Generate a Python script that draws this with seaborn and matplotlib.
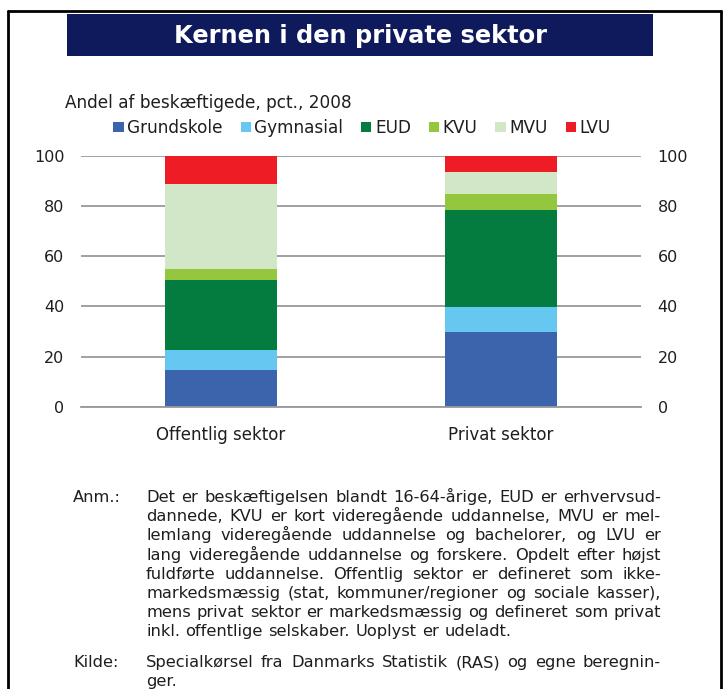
#!/usr/bin/env python

import matplotlib
matplotlib.use("Agg")
import matplotlib.pyplot as plt
from matplotlib.patches import Patch, Rectangle
from matplotlib.lines import Line2D
import pandas as pd
import numpy as np
import seaborn as sns

# data (pct. of employed, 2008)
categories = ['Offentlig sektor', 'Privat sektor']
series = ['Grundskole', 'Gymnasial', 'EUD', 'KVU', 'MVU', 'LVU']
grundskole = [14.6, 29.9]
gymnasial = [8.0, 9.7]
eud = [27.9, 38.8]
kvu = [4.4, 6.4]
mvu = [33.8, 8.8]
lvu = [11.3, 6.4]
colors = ['#3c64ad', '#66c8f0', '#047c40', '#94c73d', '#d2e7c7', '#ee1c25']
yticks = [0, 20, 40, 60, 80, 100]

title = 'Kernen i den private sektor'
subtitle = 'Andel af beskæftigede, pct., 2008'
anm_lines = [
	'Det er beskæftigelsen blandt 16-64-årige, EUD er erhvervsud-',
	'dannede, KVU er kort videregående uddannelse, MVU er mel-',
	'lemlang videregående uddannelse og bachelorer, og LVU er',
	'lang videregående uddannelse og forskere. Opdelt efter højst',
	'fuldførte uddannelse. Offentlig sektor er defineret som ikke-',
	'markedsmæssig (stat, kommuner/regioner og sociale kasser),',
	'mens privat sektor er markedsmæssig og defineret som privat',
	'inkl. offentlige selskaber. Uoplyst er udeladt.',
]
kilde_lines = [
	'Specialkørsel fra Danmarks Statistik (RAS) og egne beregnin-',
	'ger.',
]

W, H = 723, 689
TXT = '#1e1e1e'


def fx(px):
	return px / W


def fy(py):
	# py measured from the top of the picture
	return 1 - py / H


def justified(fig, x0, x1, yb, line, last=False, **kw):
	# spread words so the line fills x0..x1 (pixels), like the source layout
	words = line.split()
	r = fig.canvas.get_renderer()
	texts = [fig.text(0, fy(yb), w, va='baseline', ha='left', **kw) for w in words]
	widths = [t.get_window_extent(r).width for t in texts]
	if last or len(words) == 1:
		gap = 5.5
	else:
		gap = (x1 - x0 - sum(widths)) / (len(words) - 1)
	x = x0
	for t, w in zip(texts, widths):
		t.set_x(fx(x))
		x += w + gap


def main():
	sns.set_theme(style='white')
	plt.rcParams['font.family'] = ['DejaVu Sans']

	d = {'sektor': categories, 'Grundskole': grundskole, 'Gymnasial': gymnasial,
		'EUD': eud, 'KVU': kvu, 'MVU': mvu, 'LVU': lvu}
	df = pd.DataFrame(d)
	cum = df[series].cumsum(axis=1)
	cum['sektor'] = df['sektor']

	fig = plt.figure(figsize=(W / 100, H / 100), dpi=100)
	fig.patch.set_facecolor('white')

	# outer frame (left, top, right) - runs off the bottom of the page
	fig.add_artist(Line2D([fx(8), fx(8)], [-0.05, fy(11)], color='black', lw=2))
	fig.add_artist(Line2D([fx(8), fx(721)], [fy(11), fy(11)], color='black', lw=2))
	fig.add_artist(Line2D([fx(721), fx(721)], [-0.05, fy(11)], color='black', lw=2))

	# title box
	fig.add_artist(Rectangle((fx(67), fy(56)), fx(653 - 67), (56 - 14) / H,
		facecolor='#0f1a5c', edgecolor='none'))
	fig.text(fx(360), fy(36), title, color='white', fontsize=17.4,
		fontweight='bold', ha='center', va='center')

	fig.text(fx(65), fy(103), subtitle, color=TXT, fontsize=12.2, ha='left', va='center')

	ax = fig.add_axes([fx(81), fy(406.7), fx(560), 251 / H])

	# stacked bars: draw cumulative totals from the top layer down
	for s, c in reversed(list(zip(series, colors))):
		sns.barplot(data=cum, x='sektor', y=s, color=c, saturation=1,
			width=0.4, linewidth=0, ax=ax)

	ax.set_xlim(-0.5, 1.5)
	ax.set_ylim(0, 100)
	ax.set_yticks(yticks)
	ax.set_xlabel('')
	ax.set_ylabel('')
	ax.yaxis.grid(True, color='#999999', lw=1.3)
	ax.set_axisbelow(True)
	for sp in ['left', 'right', 'top']:
		ax.spines[sp].set_visible(False)
	ax.spines['bottom'].set_color('#999999')
	ax.spines['bottom'].set_linewidth(1.3)

	ax.tick_params(axis='y', which='both', length=0, labelsize=11.5,
		labelcolor=TXT, labelleft=True, labelright=True, pad=12)
	ax.tick_params(axis='x', which='major', length=0, labelsize=12,
		labelcolor=TXT, pad=14)
	ax.set_xticks([-0.5, 0.5, 1.5], minor=True)
	ax.tick_params(axis='x', which='minor', length=5, width=1.3,
		color='#999999', direction='out')

	handles = [Patch(facecolor=c, edgecolor='none', label=s) for s, c in zip(series, colors)]
	fig.legend(handles=handles, loc='center', bbox_to_anchor=(fx(362), fy(128)),
		ncol=6, frameon=False, fontsize=12.2, handlelength=0.6, handleheight=0.6,
		handletextpad=0.22, columnspacing=1.05, borderaxespad=0, borderpad=0,
		labelcolor=TXT)

	# notes, justified like the source (positions are baselines)
	note_kw = dict(fontsize=11.7, color=TXT)
	y0 = 502
	step = 19.2
	fig.text(fx(73), fy(y0), 'Anm.:', va='baseline', ha='left', **note_kw)
	for i, line in enumerate(anm_lines):
		justified(fig, 146, 661, y0 + i * step, line,
			last=(i == len(anm_lines) - 1), **note_kw)
	y1 = 667
	fig.text(fx(73), fy(y1), 'Kilde:', va='baseline', ha='left', **note_kw)
	for i, line in enumerate(kilde_lines):
		justified(fig, 146, 661, y1 + i * step, line,
			last=(i == len(kilde_lines) - 1), **note_kw)

	fig.savefig('out.png', dpi=100, facecolor='white')


if __name__ == '__main__':
	main()
